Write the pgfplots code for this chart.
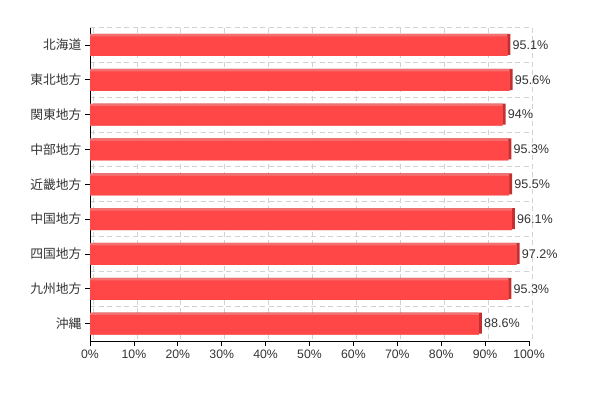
\documentclass[border=0pt]{standalone}
\usepackage{pgfplots}
\pgfplotsset{compat=1.18}
\usepackage{pgfplotstable}
\usepackage{fontspec}
\setmainfont{Liberation Sans}
\newfontfamily\cjk{Noto Sans CJK JP}
\definecolor{barred}{RGB}{255,71,71}
\definecolor{barlight}{RGB}{242,112,112}
\definecolor{bardark}{RGB}{196,48,48}
\definecolor{txt}{RGB}{51,51,51}
\definecolor{gridc}{RGB}{210,210,210}
\pgfplotstableread{
y v
0 95.1
1 95.6
2 94
3 95.3
4 95.5
5 96.1
6 97.2
7 95.3
8 88.6
}\datatable
\begin{document}
\begin{tikzpicture}
\path (0,0) rectangle (598bp,398bp);
\begin{axis}[
  at={(90bp,57bp)}, anchor=south west,
  scale only axis, width=439bp, height=313.5bp,
  xmin=0, xmax=100, ymin=-0.5, ymax=8.5, y dir=reverse,
  axis x line*=bottom, axis y line*=left,
  axis line style={black, line width=0.8bp, -},
  xtick={0,10,...,100},
  xticklabel={\pgfmathprintnumber{\tick}\%},
  ytick={0,...,8},
  yticklabels={北海道,東北地方,関東地方,中部地方,近畿地方,中国地方,四国地方,九州地方,沖縄},
  yticklabel style={font=\cjk\fontsize{12.8}{14}\selectfont, text=txt},
  xticklabel style={font=\fontsize{12.3}{14}\selectfont, text=txt},
  /pgf/number format/assume math mode=true,
  tick align=outside, major tick length=5bp,
  tick style={black, line width=0.8bp},
  minor ytick={-0.5,0.5,...,8.5}, minor tick length=0pt,
  xmajorgrids, yminorgrids,
  major grid style={dash pattern=on 5bp off 3.5bp, draw=gridc, line width=0.7bp, xshift=3bp},
  minor grid style={dash pattern=on 5bp off 3.5bp, draw=gridc, line width=0.7bp},
  xbar, bar width=22bp,
  clip=false,
]
\addplot[fill=bardark, draw=none, xshift=3bp, yshift=0.5bp, bar width=21bp, bar shift=0pt] table[x=v,y=y]{\datatable};
\addplot[fill=barlight, draw=none, bar shift=0pt] table[x=v,y=y]{\datatable};
\addplot[fill=barred, draw=none, bar width=19.5bp, bar shift=0pt, yshift=-1.25bp,
  nodes near coords={\pgfmathprintnumber{\pgfplotspointmeta}\%},
  point meta=x,
  nodes near coords style={anchor=west, xshift=4bp, yshift=1.25bp, inner sep=1bp, text=txt, font=\fontsize{12.6}{14}\selectfont, /pgf/number format/assume math mode=true},
] table[x=v,y=y]{\datatable};
\end{axis}
\end{tikzpicture}
\end{document}
